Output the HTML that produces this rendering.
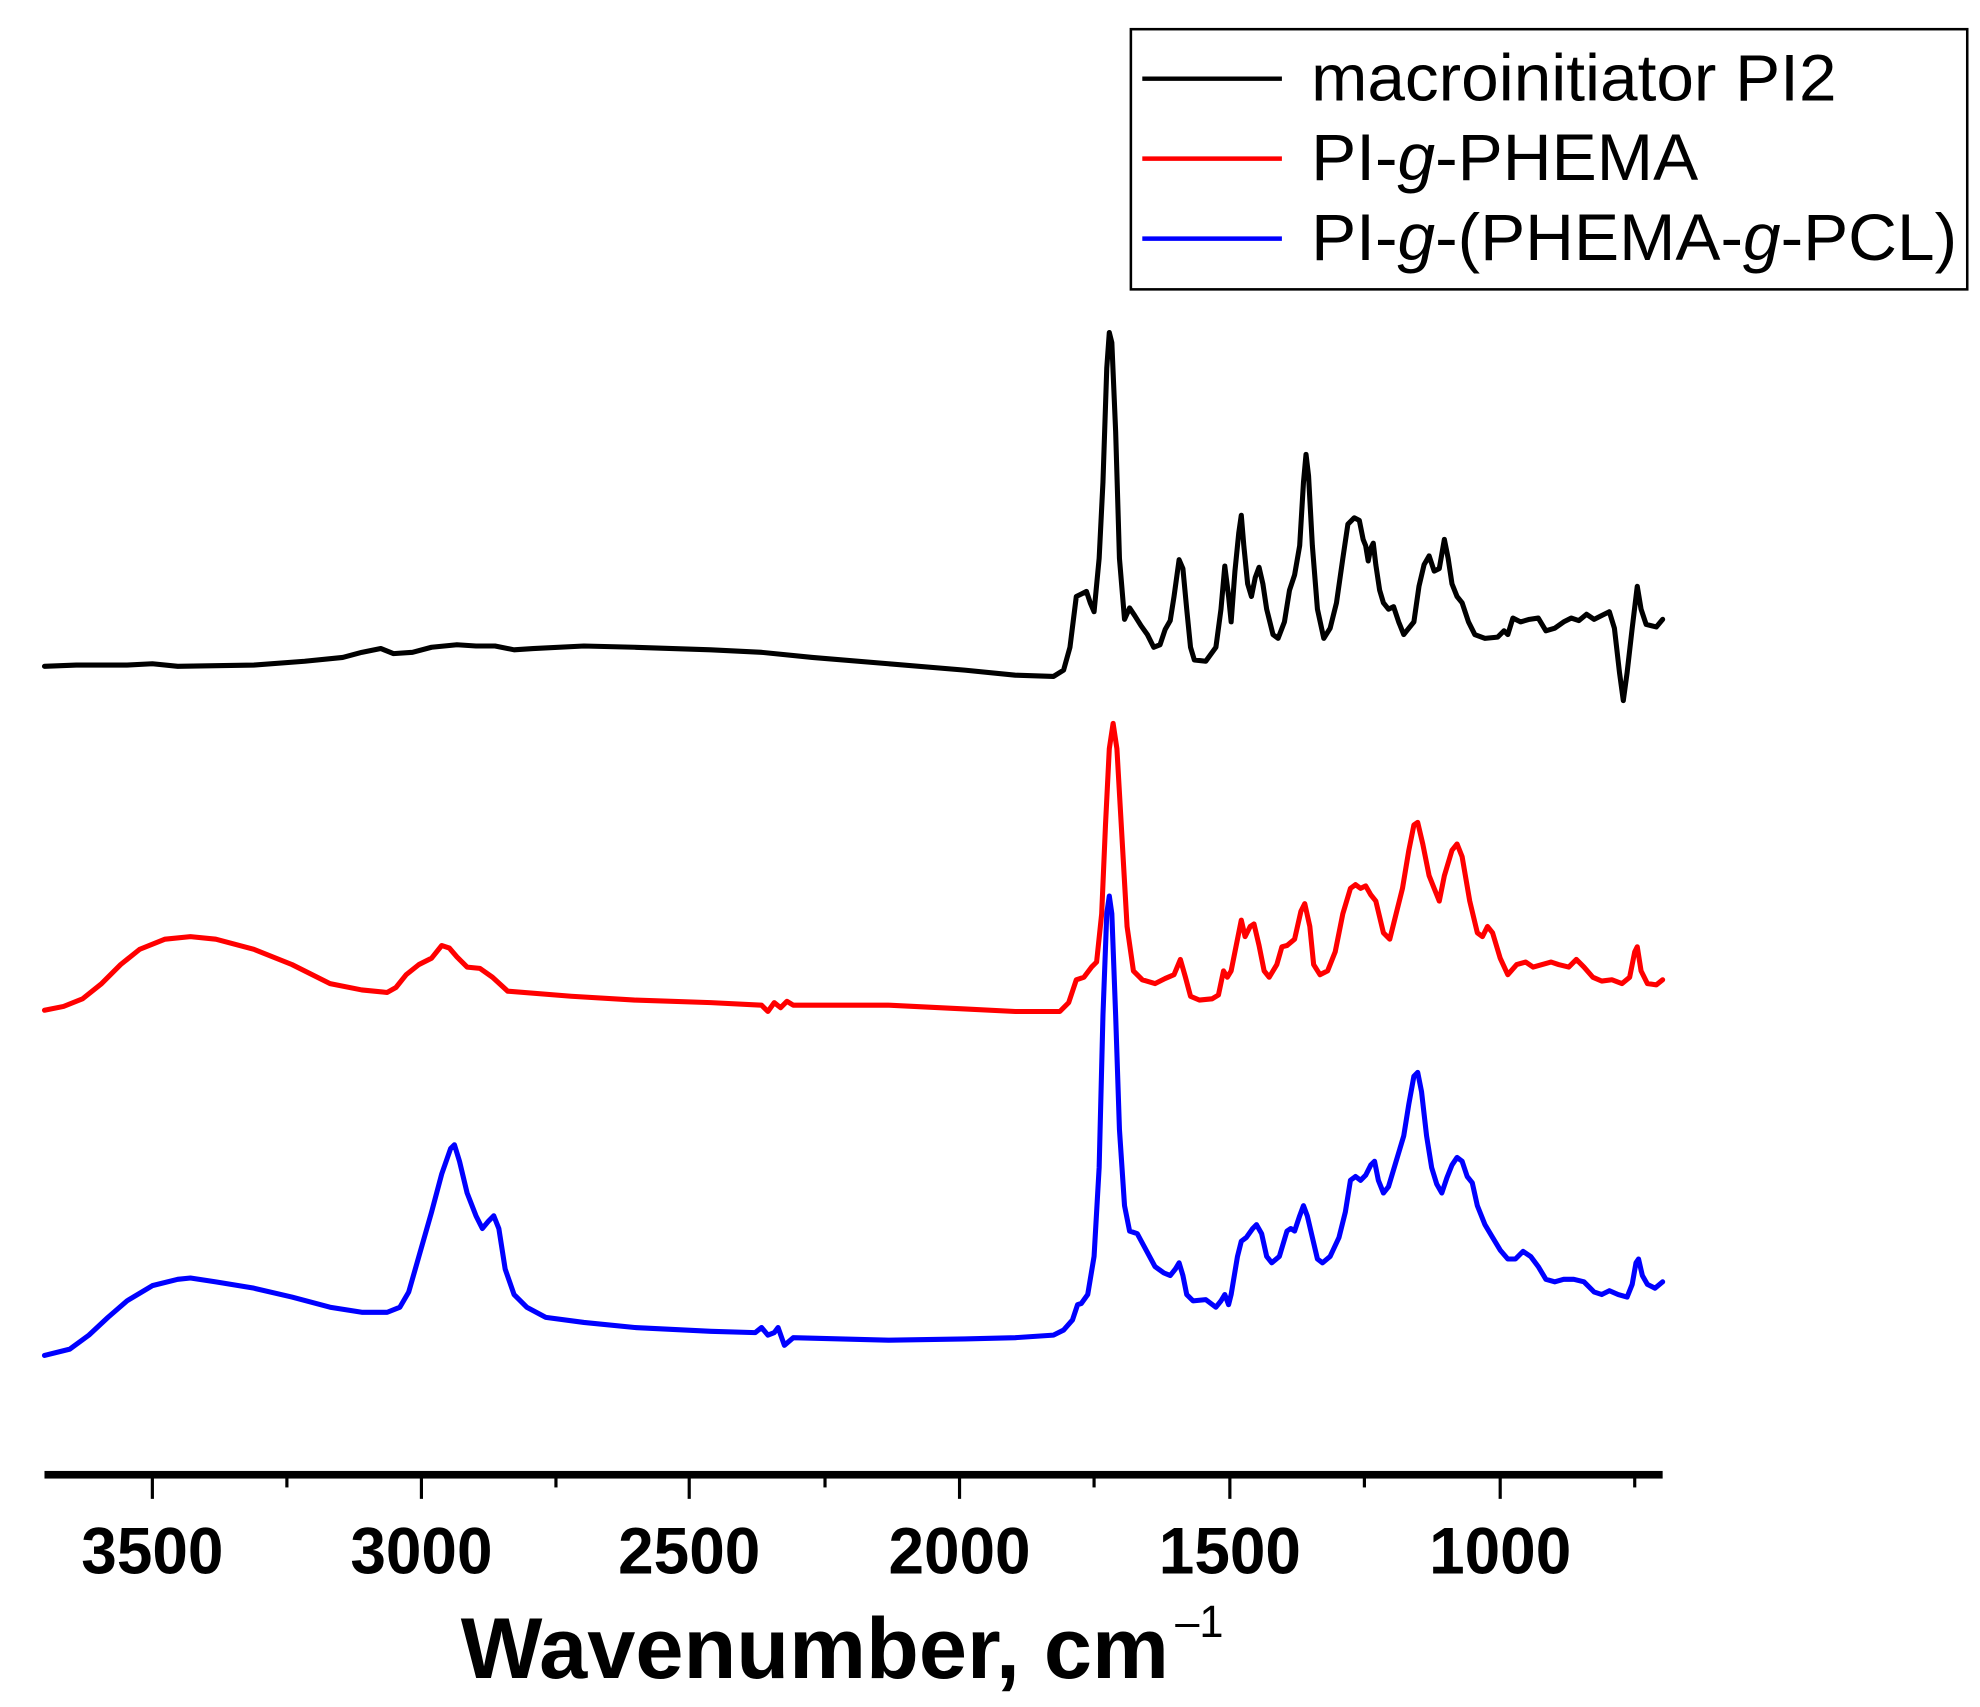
<!DOCTYPE html>
<html><head><meta charset="utf-8"><style>html,body{margin:0;padding:0;background:#fff}svg{display:block}</style></head>
<body>
<svg width="1980" height="1707" viewBox="0 0 1560 1345" xmlns="http://www.w3.org/2000/svg" font-family="Liberation Sans, sans-serif">
<rect width="1560" height="1345" fill="#fff"/>
<g fill="none" stroke-width="4" stroke-linejoin="round" stroke-linecap="round">
<polyline stroke="#000" points="35,525 60,524 100,524 120,523 140,525 200,524 240,521 270,518 285,514 300,511 310,515 325,514 340,510 360,508 375,509 390,509 405,512 420,511 460,509 500,510 560,512 600,514 640,518 700,523 760,528 800,532 830,533 838,528 843,510 848,470 852,468 856,466 859,475 862,482 866,440 869,380 872,290 874,262 876,270 879,340 882,440 886,488 890,479 894,485 899,493 904,500 909,510 914,508 918,496 922,489 925,470 929,441 932,448 935,480 938,510 941,520 950,521 958,510 962,480 965,446 968,470 970,490 973,450 976,420 978,406 980,430 983,460 986,470 989,455 992,447 995,460 998,480 1003,500 1007,503 1012,490 1016,465 1020,453 1024,430 1027,380 1029,358 1031,375 1034,430 1038,480 1043,503 1048,495 1053,475 1058,440 1062,413 1067,408 1071,410 1074,425 1076,430 1078,442 1080,432 1082,428 1084,445 1087,465 1090,475 1094,480 1098,478 1102,490 1106,500 1110,495 1114,490 1118,462 1122,445 1126,438 1130,450 1134,448 1138,425 1141,440 1144,460 1148,470 1152,475 1157,490 1162,500 1170,503 1180,502 1185,497 1188,500 1192,487 1198,490 1205,488 1212,487 1218,497 1225,495 1232,490 1238,487 1244,489 1250,484 1256,488 1262,485 1268,482 1272,495 1276,530 1279,552 1282,530 1286,495 1290,462 1293,480 1297,492 1305,494 1310,488"/>
<polyline stroke="#ff0000" points="35,796 50,793 65,787 80,775 95,760 110,748 130,740 150,738 170,740 200,748 230,760 260,775 285,780 305,782 312,778 320,768 330,760 340,755 348,745 354,747 360,754 368,762 378,763 388,770 400,781 450,785 500,788 560,790 600,792 605,797 610,790 615,794 620,789 625,792 700,792 760,795 800,797 835,797 842,790 848,772 854,770 860,762 864,758 868,720 871,650 874,590 877,570 880,590 884,660 888,730 893,765 900,772 910,775 918,771 925,768 930,756 934,770 938,785 945,788 955,787 960,784 964,765 967,770 970,765 974,745 978,725 981,738 985,730 988,728 992,745 996,765 1000,770 1006,760 1010,746 1014,745 1020,740 1025,718 1028,712 1032,730 1035,760 1040,768 1046,765 1052,750 1058,720 1064,700 1068,697 1072,700 1076,698 1080,705 1084,710 1090,735 1095,740 1100,720 1105,700 1110,670 1114,650 1117,648 1121,665 1126,690 1130,700 1134,710 1138,690 1144,670 1148,665 1152,675 1158,710 1164,735 1168,738 1172,730 1176,735 1182,755 1188,768 1195,760 1202,758 1208,762 1215,760 1222,758 1228,760 1236,762 1242,756 1248,762 1255,770 1262,773 1270,772 1278,775 1284,770 1288,750 1290,746 1293,765 1298,775 1305,776 1310,772"/>
<polyline stroke="#0000ff" points="35,1068 55,1063 70,1052 85,1038 100,1025 120,1013 140,1008 150,1007 170,1010 200,1015 230,1022 260,1030 285,1034 305,1034 315,1030 322,1018 330,990 340,955 348,925 355,905 358,902 362,915 368,940 375,958 380,968 385,962 389,958 393,968 398,1000 405,1020 415,1030 430,1038 460,1042 500,1046 560,1049 595,1050 600,1046 605,1052 610,1050 613,1046 618,1060 625,1054 700,1056 760,1055 800,1054 830,1052 838,1048 845,1040 849,1028 852,1027 857,1020 862,990 866,920 869,800 872,720 874,706 876,720 879,800 882,890 886,950 890,970 896,972 903,985 910,998 917,1003 922,1005 926,1000 929,995 932,1005 935,1020 940,1025 950,1024 958,1030 962,1025 965,1020 968,1028 970,1020 975,990 978,978 982,975 987,968 990,965 994,972 998,990 1002,995 1008,990 1014,970 1017,968 1020,970 1024,958 1027,950 1030,958 1034,975 1038,992 1042,995 1048,990 1055,975 1060,955 1064,930 1068,927 1072,930 1076,926 1080,918 1083,915 1086,930 1090,940 1094,935 1100,915 1106,895 1110,870 1114,848 1117,845 1120,860 1124,895 1128,920 1132,933 1136,940 1140,928 1144,918 1148,912 1152,915 1156,927 1160,932 1164,950 1170,965 1176,975 1182,985 1188,992 1194,992 1200,986 1206,990 1212,998 1218,1008 1225,1010 1232,1008 1240,1008 1248,1010 1256,1018 1262,1020 1268,1017 1275,1020 1282,1022 1286,1012 1289,995 1291,992 1294,1005 1298,1012 1304,1015 1310,1010"/>
</g>
<rect x="35" y="1159" width="1275" height="6" fill="#000"/>
<g stroke="#000" stroke-width="2.5">
<line x1="120" y1="1162" x2="120" y2="1181"/><line x1="332" y1="1162" x2="332" y2="1181"/><line x1="543" y1="1162" x2="543" y2="1181"/><line x1="756" y1="1162" x2="756" y2="1181"/><line x1="969" y1="1162" x2="969" y2="1181"/><line x1="1182" y1="1162" x2="1182" y2="1181"/>
<line x1="226" y1="1162" x2="226" y2="1172"/><line x1="438" y1="1162" x2="438" y2="1172"/><line x1="650" y1="1162" x2="650" y2="1172"/><line x1="862" y1="1162" x2="862" y2="1172"/><line x1="1075" y1="1162" x2="1075" y2="1172"/><line x1="1288" y1="1162" x2="1288" y2="1172"/>
</g>
<g font-weight="bold" font-size="52" text-anchor="middle">
<text x="120" y="1240" textLength="112" lengthAdjust="spacingAndGlyphs">3500</text><text x="332" y="1240" textLength="112" lengthAdjust="spacingAndGlyphs">3000</text><text x="543" y="1240" textLength="112" lengthAdjust="spacingAndGlyphs">2500</text><text x="756" y="1240" textLength="112" lengthAdjust="spacingAndGlyphs">2000</text><text x="969" y="1240" textLength="112" lengthAdjust="spacingAndGlyphs">1500</text><text x="1182" y="1240" textLength="112" lengthAdjust="spacingAndGlyphs">1000</text>
</g>
<text x="363" y="1322" font-weight="bold" font-size="68" textLength="558" lengthAdjust="spacingAndGlyphs">Wavenumber, cm</text>
<text x="926" y="1290" font-size="36" textLength="38" lengthAdjust="spacingAndGlyphs">–1</text>
<rect x="891" y="23" width="659" height="205" fill="none" stroke="#000" stroke-width="2"/>
<line x1="900" y1="62" x2="1010" y2="62" stroke="#000" stroke-width="3.5"/>
<line x1="900" y1="125" x2="1010" y2="125" stroke="#ff0000" stroke-width="3.5"/>
<line x1="900" y1="188" x2="1010" y2="188" stroke="#0000ff" stroke-width="3.5"/>
<g font-size="52">
<text x="1033" y="79" textLength="414" lengthAdjust="spacingAndGlyphs">macroinitiator PI2</text>
<text x="1033" y="142" textLength="305" lengthAdjust="spacingAndGlyphs">PI-<tspan font-style="italic">g</tspan>-PHEMA</text>
<text x="1033" y="205" textLength="509" lengthAdjust="spacingAndGlyphs">PI-<tspan font-style="italic">g</tspan>-(PHEMA-<tspan font-style="italic">g</tspan>-PCL)</text>
</g>
</svg>
</body></html>
